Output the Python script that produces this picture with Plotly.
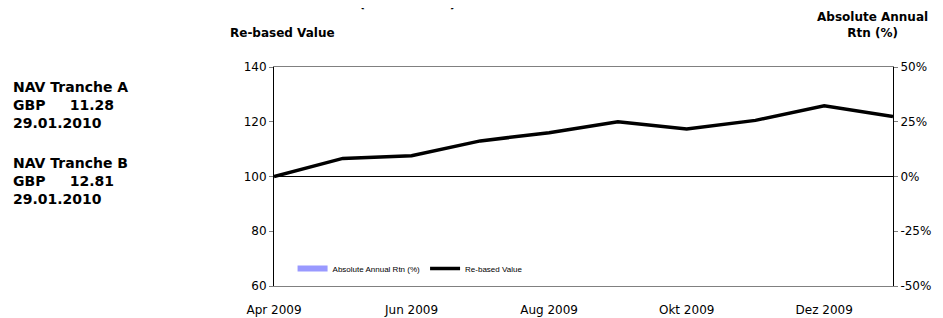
import plotly.graph_objects as go

months = ["Apr 2009", "Mai 2009", "Jun 2009", "Jul 2009", "Aug 2009",
          "Sep 2009", "Okt 2009", "Nov 2009", "Dez 2009", "Jan 2010"]
rebased_value = [100.0, 106.6, 107.6, 113.0, 116.0, 120.0, 117.4, 120.5, 125.8, 121.9]
annual_rtn = [None] * 10  # no bars visible in the reference

tick_months = ["Apr 2009", "Jun 2009", "Aug 2009", "Okt 2009", "Dez 2009"]
left_ticks = [60, 80, 100, 120, 140]
right_ticks = [-0.5, -0.25, 0, 0.25, 0.5]
right_tick_text = ["-50%", "-25%", "0%", "25%", "50%"]

FONT = "DejaVu Sans, Verdana, sans-serif"
LEG_FONT = "Liberation Sans, Arial, sans-serif"

# the page body has an 8px margin; compensate so the plot area lands where the reference has it
OFF = 8
PL, PT, PW, PH = 274, 67, 619, 219

fig = go.Figure()
fig.add_trace(go.Scatter(
    x=months, y=annual_rtn, name="Absolute Annual Rtn (%)", yaxis="y2",
    mode="lines", line=dict(color="#9999FF", width=6),
))
fig.add_trace(go.Scatter(
    x=months, y=rebased_value, name="Re-based Value",
    mode="lines", line=dict(color="black", width=3.5),
))

fig.update_layout(
    width=943 - OFF, height=318 - OFF,
    margin=dict(l=PL - OFF, r=943 - OFF - (PL - OFF) - PW, t=PT - OFF, b=318 - PT - PH,
                autoexpand=False),
    paper_bgcolor="white", plot_bgcolor="white",
    font=dict(family=FONT, size=12, color="black"),
    showlegend=True,
    legend=dict(
        orientation="h", x=0.03, y=0.08, xanchor="left", yanchor="middle",
        font=dict(size=8, family=LEG_FONT), bgcolor="rgba(0,0,0,0)",
        itemwidth=30, tracegroupgap=0,
    ),
    xaxis=dict(
        type="category", categoryorder="array", categoryarray=months,
        range=[0, 9], tickvals=tick_months, ticktext=tick_months,
        showgrid=False, zeroline=False, showline=True, linecolor="#808080",
        linewidth=1, mirror=True, ticks="", tickfont=dict(size=12),
        ticklabelstandoff=13, automargin=False,
    ),
    yaxis=dict(
        range=[60, 140], tickvals=left_ticks, showgrid=False, zeroline=False,
        showline=True, linecolor="black", linewidth=1, ticks="outside",
        ticklen=4, tickcolor="#808080", tickfont=dict(size=12), automargin=False,
    ),
    yaxis2=dict(
        overlaying="y", side="right", range=[-0.5, 0.5],
        tickvals=right_ticks, ticktext=right_tick_text, showgrid=False,
        zeroline=True, zerolinecolor="black", zerolinewidth=1,
        showline=True, linecolor="black", linewidth=1, ticks="outside",
        ticklen=4, tickcolor="#808080", tickfont=dict(size=12), automargin=False,
    ),
)

NB = "\u00a0"
ann = []
def add(text, x, y, xanchor="left", yanchor="middle", size=13, align="left"):
    ann.append(dict(text=text, x=x, y=y, xref="paper", yref="paper",
                    xanchor=xanchor, yanchor=yanchor, showarrow=False,
                    align=align, font=dict(family=FONT, size=size, color="black")))

def px_x(p):
    return (p - PL) / float(PW)

def px_y(p):
    return (PT + PH - p) / float(PH)

add("<b>Performance (GBP Class)</b>", px_x(350), px_y(13), xanchor="center", yanchor="bottom", size=15)
add("<b>Re-based Value</b>", px_x(228), px_y(33), size=12)
add("<b>Absolute Annual<br>Rtn (%)</b>", px_x(872), px_y(25), xanchor="center", size=12, align="center")

nav_blocks = [("NAV Tranche A", "GBP" + NB * 5 + "11.28", "29.01.2010", 105),
              ("NAV Tranche B", "GBP" + NB * 5 + "12.81", "29.01.2010", 181)]
for l1, l2, l3, yy in nav_blocks:
    add("<b>" + l1 + "<br>" + l2 + "<br>" + l3 + "</b>", px_x(11), px_y(yy), size=14)

fig.update_layout(annotations=ann)
fig.write_html("out.html")
